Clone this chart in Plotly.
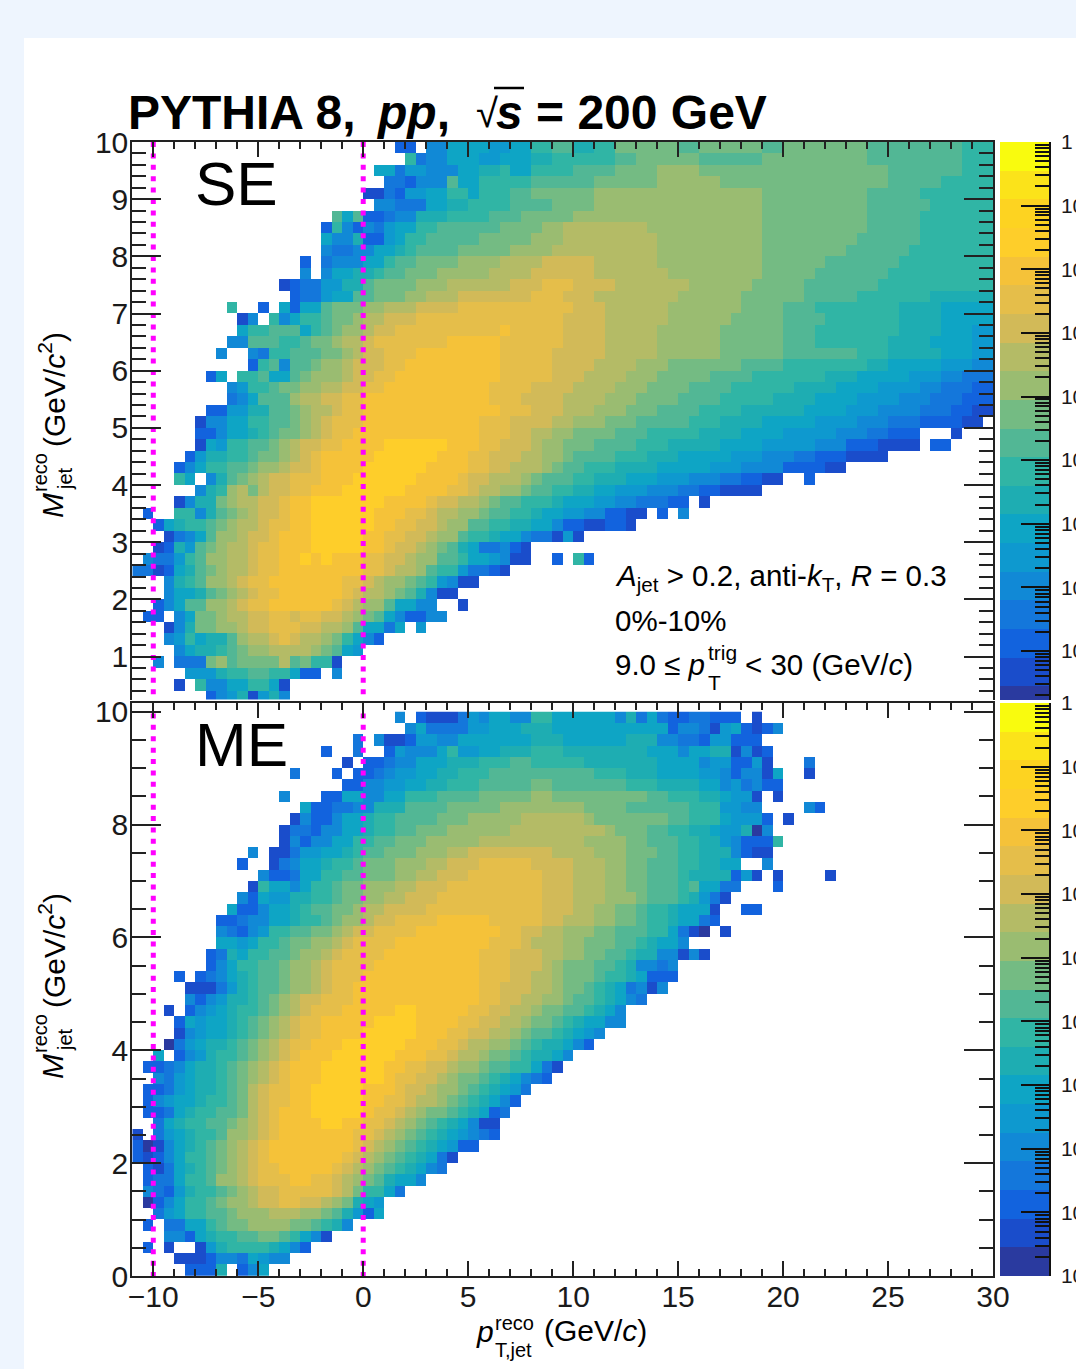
import re
import numpy as np
import plotly.graph_objects as go

W, H = 1076, 1369
FONT = "Liberation Sans"

# Band colours of the shared palette, from the lowest band (a) to the highest (t)
BAND_COLORS = ["#2A3A9F", "#1A4DCB", "#1263DE", "#1477DB", "#1189D6", "#0E99CF", "#0EA5C5",
               "#1EADB2", "#30B5A5", "#52B795", "#74BB83", "#9ABC71", "#B4BB66", "#D2BA58",
               "#E5BE4A", "#F5C239", "#FECE2A", "#FDD321", "#FBE31A", "#F9FB0E"]
BAND_LETTERS = "abcdefghijklmnopqrst"
LOG_MIN, LOG_MAX = -9.0, 0.0
CBAR_TICK_TEXT = ["1", "10<sup>\u22121</sup>", "10<sup>\u22122</sup>", "10<sup>\u22123</sup>", "10<sup>\u22124</sup>",
                  "10<sup>\u22125</sup>", "10<sup>\u22126</sup>", "10<sup>\u22127</sup>", "10<sup>\u22128</sup>", "10<sup>\u22129</sup>"]
CBAR_TICK_POW = [0, -1, -2, -3, -4, -5, -6, -7, -8, -9]

# Each row: "<band letter><first column>"; '.' is an empty stretch. Column 0 starts at pT=-11, 0.5 GeV wide.
SE_ROWS = [
 "c25 .27 e28 .30 g30 f34 g36 i38 j40 h42 i44 k46 j52 k54 j60 k62 j70 i79",
 "i26 d27 e28 g30 f33 g35 h38 i40 j46 k48 j54 k60 j70 i79",
 "g23 .25 d25 f26 e28 g31 h33 i35 g36 i38 j42 k46 l50 k54 j72 i79",
 "d24 c26 e27 j30 g31 i33 j38 k44 l50 k56 j72 i77",
 "b22 d24 c25 f26 g28 i30 g32 i33 j36 k38 l44 k60 j70 i75",
 "e23 d25 g28 h30 i32 j36 k40 l44 k60 j70 i76",
 "j19 .20 g20 j21 c22 d24 e25 h27 i30 j34 k37 l42 k60 j70 i75",
 "c18 i19 e20 c21 e22 d23 f24 g25 i27 j29 k35 l39 m41 l49 k60 j70 i75",
 "g18 e19 h21 c22 f24 g25 i26 j28 k33 l38 m41 l50 k60 j69 i75",
 "e18 d19 e21 g23 h25 i26 j27 k31 l36 m40 l50 k60 j68 i74",
 "c16 .17 d18 e19 g22 i24 j25 k27 l31 m35 n39 m44 l50 k60 j66 i73",
 "e16 .17 e18 g19 h21 i23 j24 k26 l29 m34 n38 m44 l51 k60 j65 i72",
 "b14 c15 d16 f18 h20 j22 k23 l27 m30 n36 o39 n42 m46 l53 k59 j64 i71",
 "c15 d16 f18 g19 j21 k23 l26 m28 n31 o38 n41 m44 l52 k58 j64 i69 h76",
 "i9 .10 c12 .13 g14 c15 g16 j18 k19 l22 m24 n27 o31 n42 m45 l51 k58 j62 i65 h73 g77",
 "b10 e11 .12 i13 e14 g15 i16 j18 k19 l21 m22 n24 o27 n41 m45 l51 k57 j62 i66 h73 g77",
 "g10 i11 j13 g16 i17 j18 k19 l20 m22 n23 o25 p35 o36 n41 m45 l50 k56 j62 i65 h73 g77 f80",
 "e9 j11 i14 j16 k17 l19 m20 n22 o23 p30 o35 n41 m45 l50 k56 j62 i65 h72 g76 f80",
 "e8 .9 e11 d12 i13 j15 k18 l20 m21 n22 o24 p27 o35 n40 m45 l50 k56 j62 i69 h72 g77 f80",
 "c11 i12 j13 e14 j15 k17 l18 m20 n21 o24 p26 o35 n40 m44 l48 k51 j58 i62 h70 g72 f77 e80",
 "c7 g8 .9 i10 j12 g13 j15 k16 l17 m20 n21 o23 p25 o35 n40 m43 l47 k50 j55 i59 h66 g69 f74 e77 d79",
 "e9 f10 i11 j13 k14 l16 m18 n20 o22 p24 o34 n38 m42 l46 k49 j53 i57 h63 g67 f71 e75 d77 c80",
 "d9 e10 g11 j12 l15 m16 n18 o20 p22 o34 n37 m41 l45 k48 j52 i56 h61 g65 f69 e73 d76 c79",
 "c7 f9 h11 j13 k15 l16 m17 n19 o20 p22 o35 n38 m41 l44 k47 j50 i54 h58 g64 f68 e71 d75 c78 b80",
 "b6 e7 g9 i11 j13 k15 l16 m17 n18 o19 p22 o33 n36 m40 l42 k45 j48 i53 h56 g60 f65 e69 d72 c75 b79 .81",
 "c6 e8 g9 h11 i12 j13 k14 l16 m17 n18 o19 p21 o33 n36 m38 l40 k42 j46 i49 h54 g58 f62 e67 d70 c72 .75 b78 .79",
 "b6 g7 f8 i9 j11 k13 l14 m15 n16 o18 p20 q24 p30 o33 n35 m38 l39 k41 j44 i48 h51 g56 f60 e65 c68 b71 .75 c76 .78",
 "c5 f6 h7 i9 j11 k12 l14 m15 n16 o17 p18 q23 p29 o32 n34 m37 l39 k41 j42 i46 h49 g52 f57 e60 d63 c65 b68 .72",
 "c4 e5 g6 i7 j9 k11 l12 m14 n15 o17 p18 q22 p28 o32 n34 m36 l39 k40 j41 i43 h46 g50 f55 e58 c62 b66 .68",
 "i4 g5 .6 e7 h8 j9 k10 l11 m12 n13 o15 p18 q21 p27 o31 n32 m34 l37 k38 j39 i42 h44 g47 f50 e53 d56 c58 b60 .62 c64 .65",
 "e6 h7 i8 l9 m10 k11 m12 n13 o15 p17 q20 p26 o30 n32 m33 l35 k37 j38 i40 h42 g44 f46 e49 d52 c54 b56 .60",
 "b4 e5 h6 k8 l9 m10 n12 o14 p15 q17 p24 o28 n29 m31 l33 k34 j35 i37 h40 g41 f44 e46 d48 c51 .53 b54 .55",
 "c1 .2 i4 e6 h7 j8 k9 l10 m11 n12 o14 p15 q17 p23 o26 n28 m29 l31 k33 j34 i36 h38 g39 f41 e43 c45 b47 .49 c50 .51 e52 .53",
 "c2 g3 h4 i5 j7 k8 l9 m10 n12 o13 p15 q17 p23 o25 n27 m29 l30 j32 i34 h36 g38 e40 c41 b43 c45 b47 .48",
 "b3 d4 e5 g6 j7 l8 m10 n11 o13 p14 q17 p22 o24 n26 m28 l29 j31 i32 h34 g35 e37 d38 b40 f41 b42 .43",
 "b2 c3 h4 f5 j6 k7 l8 m9 n11 o12 p14 q17 p22 o24 n25 m27 l28 k29 j30 h31 g32 d33 e35 c36 b37 .38",
 "e1 d2 f4 i5 j6 l7 m9 n11 o12 p14 q16 p17 q18 p19 o22 n24 m26 l27 j29 i31 g32 f34 e35 b36 .38 c40 .41 i42 c43 .44",
 "d0 .2 b2 c3 g4 h5 j6 k7 l8 m9 n11 o12 p14 o22 n24 m25 l27 j28 i29 f31 d32 c34 b35 .36",
 "e3 h4 i5 j6 l7 m9 n10 o11 p13 o20 n22 m23 l24 k26 j27 i28 f29 e30 b31 .33",
 "e3 g4 h6 j7 k8 l9 m10 n11 o12 p14 o20 n21 m22 l24 k25 j26 h27 g28 e28 b29 .31",
 "c2 e3 g4 j5 l7 m9 n10 o11 p13 o19 n20 m21 l22 j24 g25 e27 .29 b31 .32",
 "c1 .3 e4 g5 k6 l8 m9 n11 o13 n15 o16 n18 m20 l21 k22 j23 g24 e25 c26 .28 e28 .30",
 "b3 e4 h5 k6 l8 m10 n11 o13 n16 m18 l20 j21 g22 d24 g25 .26 f27 .28",
 "e3 f4 i5 g6 h7 j9 l10 m11 n13 o14 n15 m16 l18 k19 i20 g21 e22 c23 .24",
 "e4 g5 h6 i8 j9 k10 l11 m13 l17 k18 j19 g20 f21 .22",
 "e2 .3 d4 k7 l8 j9 k10 m14 j15 k16 i17 b19 .20",
 "f5 h8 i9 j11 i13 g15 c16 .18 e19 .20",
 "b4 .5 i6 e7 g9 i11 g13 b14 .15",
 "c7 e8 f9 h10 b11 f12 h13 e14 .15",
]

ME_ROWS = [
 "e25 .26 c27 b28 d31 f32 e33 g34 e36 i38 g40 e46 h47 d48 g49 d50 c51 d53 c55 .58 b59 .60",
 "e26 g27 d28 f32 g34 h37 g40 c51 e52 d54 b55 f56 g57 c58 b59 .60 c60 e61 .62",
 "d21 .22 e23 b24 c26 f27 e29 g31 h38 g41 h47 e50 d52 c54 f55 c57 .59 c59 .60",
 "c18 .19 d21 .22 c24 f25 e26 g29 i30 f31 g33 h35 i38 h41 g49 e52 g53 h55 b57 e58 b59 c60 .61",
 "b20 .21 c22 d24 e25 g27 h30 i33 j36 i38 h43 g50 e54 f55 c57 f59 b60 .61 d64 .65",
 "d15 .16 c19 .20 c21 d23 e24 f25 g27 h29 i31 j34 i44 h47 g50 f54 e56 c57 e58 b60 g61 .62 b64 .65",
 "c20 e22 f24 g26 h28 i30 j33 k38 j40 i47 h50 g54 e56 f57 d58 e59 c60 .62",
 "e14 .15 c18 g20 e22 g24 i26 j29 k33 l38 k40 j49 i51 h54 g56 f57 b59 .60 b61 .62",
 "g16 c17 d19 e21 h23 j26 k30 l35 k43 j47 i53 f56 e58 .60 e64 c65 .66",
 "b15 e16 c17 e19 g20 h22 i23 j25 k29 l32 m37 l43 k44 j51 i53 g56 f57 c60 .61 b62 .63",
 "b14 d15 c17 e18 g20 h22 i23 j25 k27 l30 m36 l45 k46 j49 i51 h53 g55 f56 h58 a59 e60 .61",
 "b14 e15 c16 e17 g19 i21 j23 k25 l28 m33 l43 k47 j49 i52 h54 f56 e57 c58 i61 .62",
 "e11 .12 b13 d15 f16 g18 h20 i21 j22 k24 l27 m30 n32 m40 l44 k47 j50 i52 h54 e57 c58 b59 .61",
 "c10 .11 b13 d14 e15 g16 h18 i19 j21 k22 l25 m28 n30 o33 n38 m42 l45 k47 j49 i52 h54 g56 .58 e60 .61",
 "e12 c13 d15 g16 i18 j20 k22 l25 m27 n29 o32 n39 m42 l45 k47 j49 i52 h53 c57 f58 b59 .60 b61 .62 b66 .67",
 "b11 i12 g13 e15 g16 i17 j19 k20 l22 m25 n27 o30 n39 m42 l45 k47 j49 i52 j53 g54 d56 .58 c61 .62",
 "e10 c11 g12 f13 h15 i17 j19 k20 l22 m24 n26 o29 n39 m42 l45 k48 j49 i52 h53 f54 d55 b56 .57",
 "g9 c10 e12 g13 h15 i16 j17 k19 l21 m22 n24 o28 n39 m42 l44 k46 j48 i49 h51 g52 c55 b55 .56 c58 .60",
 "c8 d10 e11 g13 h15 i16 j18 k19 l20 m22 n23 o25 p29 o34 n39 m41 l44 k46 j48 i49 h51 g52 d54 c55 .56",
 "e8 d9 c10 e11 f12 i13 j15 k17 l19 m20 n21 o23 p27 o35 n37 m39 l41 k44 j46 i49 g51 d52 b53 a54 .55 b56 .57",
 "g8 f10 g11 i12 j14 k15 l17 m19 n20 o21 p25 o34 n37 m38 l41 k43 j46 i48 h49 g50 e52 .53",
 "c7 d8 h9 g10 i11 j13 k15 l16 m18 n19 o20 p24 o33 n36 m39 l41 k43 j45 i47 h48 e50 b52 e53 b54 .55",
 "c7 e8 g9 i10 j12 k14 l15 m17 n18 o19 p23 o33 n36 m39 l40 k41 j44 i46 h47 e48 d50 e51 .52",
 "c4 .5 c6 d7 e8 g9 h10 i11 j12 k14 l15 m17 n18 o19 p22 o33 n36 m38 l40 k41 j44 i45 h47 g48 c49 .52",
 "b5 d8 f9 h10 i11 j12 k14 l15 m17 n18 o19 p21 o33 n35 m38 l40 k41 j43 i44 h45 g46 d47 e48 b49 e50 .51",
 "e5 c6 e7 f8 h9 i11 j12 k13 l14 m15 n16 o18 p21 o33 n35 m37 l39 k41 j42 i44 h45 g46 e47 d48 .49",
 "b3 .4 c5 e6 f7 g8 h9 i10 j12 k13 l14 m15 n16 o17 p20 q25 p27 o32 n34 m36 l38 k39 j41 i43 h44 g45 e46 .47",
 "c4 g5 f6 g7 h9 i10 j11 k12 l13 m14 n15 o16 p18 q23 p27 o31 n33 m35 l37 k38 j40 i41 h42 g43 e45 .47",
 "b4 e5 f6 g7 h9 i10 j11 k12 l13 m14 n15 o16 p18 q22 p27 o30 n32 m34 l36 k37 j38 i40 h41 g42 f43 e44 .45",
 "a3 d4 f5 g6 h7 i9 j10 k11 l12 m13 n14 o15 p17 q20 p26 o29 n31 m32 l34 k36 j37 i38 h39 g41 e42 c43 .44",
 "g2 .3 c4 e5 f6 h7 i8 j10 k11 l12 m13 n14 o15 p16 q19 p25 o28 n30 m31 l33 k34 j36 i37 h38 g40 e41 .42",
 "c1 d3 e4 g5 h6 i8 j9 k10 l11 m12 n13 o14 p15 q18 p24 o26 n28 m30 l31 k33 j34 i36 g38 d39 b40 .41",
 "e2 d3 f4 g5 h6 i8 j9 k10 l11 m12 n13 o14 p15 q18 p24 o25 n27 m29 l30 k31 j33 i34 h35 g36 e37 d38 c39 .40",
 "c1 d3 f4 g5 h6 i8 j9 k10 m11 n12 o13 p15 q17 p22 o25 n26 m28 l29 k31 j32 i33 h34 g35 f36 d37 .38",
 "c1 e2 f3 g4 h6 i7 j9 k10 m11 n12 o13 p15 q17 p22 o24 n26 m27 l29 k30 j31 i32 h33 g34 e35 c36 .37",
 "c1 d3 g4 h5 i6 j8 k10 m11 n12 o13 p14 q17 p22 o23 n25 m26 l27 k28 j30 i31 h32 g33 c34 d35 .36",
 "d2 g3 h4 i5 j7 k9 l10 m11 n12 o13 p14 q18 p20 o22 n24 m25 l26 k27 j28 i29 h30 g31 e32 b33 .35",
 "b0 .1 d2 f3 g4 h5 i6 j8 l9 m11 n12 o13 p14 o21 n23 m24 l25 k26 j27 i28 h29 g30 f31 e32 d33 c34 .35",
 "c0 a1 b2 e3 g4 h5 i6 j7 k8 l9 m10 n11 o12 p13 o21 n22 m23 l24 k25 j26 i27 h28 g29 f30 c31 .33",
 "c0 b1 c2 e3 g4 i5 j7 k8 l9 m10 n11 o12 p13 o20 n21 m22 l23 k24 j25 i26 h27 g28 d29 b30 .31",
 "c1 b2 d3 g4 h5 i6 j7 k8 l9 m10 n11 o12 p14 o19 n20 m21 l22 k23 j24 i25 h26 g27 e28 d29 .30",
 "c1 d2 g4 i5 j7 l8 m10 n11 o12 p15 o17 n19 m20 l21 k22 j23 h24 g25 e27 .28",
 "e1 d2 c3 f4 h5 i6 j8 k9 l10 m11 n12 o14 n19 m20 l21 k21 i22 g24 d25 .26",
 "a1 c2 e3 g4 i5 j7 k8 l9 m11 n12 o14 n16 m18 l19 k20 h21 g22 f23 .24",
 "d2 f3 g4 i5 j7 k9 l10 m13 l16 k18 j19 h20 f21 c22 g23 .24",
 "c1 .2 d3 g5 i7 j8 k9 l11 k15 j17 i18 h19 e20 .21",
 "e3 c5 g6 h7 i8 j10 k12 j14 i15 g16 e17 b18 .19",
 "c1 .2 b3 .4 b6 f7 h8 i9 h13 g14 e15 c16 .17",
 "b4 .5 b5 c7 e8 d10 g11 f12 e13 .14 e14 .15",
 "c5 .8 h8 .9 c10 e11 g12 .13",
]

N_COLS = 82
X_START, BIN_X = -11.0, 0.5
Y_TOP, BIN_Y = 10.0, 0.2
REF_X = [-10, 0]


def band_value(i):
    return LOG_MIN + (LOG_MAX - LOG_MIN) * (i + 0.5) / len(BAND_COLORS)


def decode(rows):
    out = []
    for row in rows:
        cells = [None] * N_COLS
        toks = re.findall(r"([a-t.])(\d+)", row)
        for j, (ch, start) in enumerate(toks):
            end = int(toks[j + 1][1]) if j + 1 < len(toks) else N_COLS
            if ch != ".":
                for c in range(int(start), end):
                    cells[c] = band_value(BAND_LETTERS.index(ch))
        out.append(cells)
    return out


x_edges = X_START + BIN_X * np.arange(N_COLS + 1)
nb = len(BAND_COLORS)
colorscale = []
for i, c in enumerate(BAND_COLORS):
    colorscale += [[i / nb, c], [(i + 1) / nb, c]]

# Pixel layout
PL, PR = 132.3, 993.0
P1T, P1B = 142.0, 699.5
P2T, P2B = 703.0, 1276.0
CL, CR = 1000.0, 1049.0
CB1T, CB1B = 142.0, 700.0
CB2T, CB2B = 703.0, 1276.0


def fx(p):
    return p / W


def fy(p):
    return 1 - p / H


fig = go.Figure()
hm = dict(coloraxis="coloraxis", hoverinfo="skip")
se_y = Y_TOP - BIN_Y * np.arange(len(SE_ROWS) + 1)
me_y = Y_TOP - BIN_Y * np.arange(len(ME_ROWS) + 1)
fig.add_trace(go.Heatmap(x=x_edges, y=se_y, z=decode(SE_ROWS), xaxis="x", yaxis="y", **hm))
fig.add_trace(go.Heatmap(x=x_edges, y=me_y, z=decode(ME_ROWS), xaxis="x2", yaxis="y2", **hm))

band_edges = np.linspace(LOG_MIN, LOG_MAX, nb + 1)
band_vals = [[band_value(i)] for i in range(nb)]
fig.add_trace(go.Heatmap(x=[0, 1], y=band_edges, z=band_vals, xaxis="x3", yaxis="y3", **hm))
fig.add_trace(go.Heatmap(x=[0, 1], y=band_edges, z=band_vals, xaxis="x4", yaxis="y4", **hm))

SE_YMIN, ME_YMIN, ME_YMAX = 0.25, 0.0, 10.155
for xv in REF_X:
    line = dict(color="#FF00FF", width=5, dash="5px,6.4px")
    fig.add_trace(go.Scatter(x=[xv, xv], y=[Y_TOP, SE_YMIN], mode="lines", line=line, xaxis="x", yaxis="y",
                             showlegend=False, hoverinfo="skip"))
    fig.add_trace(go.Scatter(x=[xv, xv], y=[Y_TOP - 0.03, ME_YMIN], mode="lines", line=line, xaxis="x2", yaxis="y2",
                             showlegend=False, hoverinfo="skip"))

tick = dict(color="#1a1a1a", size=30, family=FONT)
base_x = dict(range=[X_START, 30], domain=[fx(PL), fx(PR)], tick0=-10, dtick=5, ticks="inside", ticklen=15, tickwidth=1.5,
              tickcolor="#222", showline=True, linecolor="#222", linewidth=2, showgrid=False, zeroline=False, automargin=False,
              minor=dict(dtick=1, tick0=-10, ticks="inside", ticklen=7, tickwidth=1.5, tickcolor="#222", showgrid=False),
              tickfont=tick)
base_y = dict(ticks="inside", ticklen=29, tickwidth=1.5, tickcolor="#222", showline=True, linecolor="#222", linewidth=2,
              showgrid=False, zeroline=False, mirror="ticks", tickfont=tick, ticklabelstandoff=-4, automargin=False)

minor_log = sorted(float(p + np.log10(m)) for p in range(-9, 0) for m in range(2, 10))


def cbar_y(dom, rng):
    return dict(domain=dom, range=rng, side="right", anchor=None, tickmode="array", tickvals=CBAR_TICK_POW, ticktext=CBAR_TICK_TEXT,
                ticks="inside", ticklen=28, tickwidth=1.5, tickcolor="#111", showline=True, linecolor="#111", linewidth=1.5,
                showgrid=False, zeroline=False, automargin=False, tickfont=dict(color="#1a1a1a", size=21, family=FONT), ticklabelstandoff=6,
                minor=dict(tickmode="array", tickvals=minor_log, ticks="inside", ticklen=14, tickwidth=1.5, tickcolor="#111", showgrid=False))


def cbar_x(anchor):
    return dict(domain=[fx(CL), fx(CR)], range=[0, 1], showticklabels=False, ticks="", showgrid=False, zeroline=False, showline=False, anchor=anchor, automargin=False)


y3 = cbar_y([fy(CB1B), fy(CB1T)], [-8.77, 0]); y3["anchor"] = "x3"
y4 = cbar_y([fy(CB2B), fy(CB2T)], [LOG_MIN, LOG_MAX]); y4["anchor"] = "x4"

fig.update_layout(
    width=W, height=H, autosize=False, margin=dict(l=0, r=0, t=0, b=0, pad=0),
    paper_bgcolor="#EEF5FE", plot_bgcolor="#FFFFFF", showlegend=False,
    font=dict(family=FONT, color="#111"),
    coloraxis=dict(colorscale=colorscale, cmin=LOG_MIN, cmax=LOG_MAX, showscale=False),
    xaxis=dict(base_x, anchor="y", side="top", showticklabels=False),
    yaxis=dict(base_y, anchor="x", domain=[fy(P1B), fy(P1T)], range=[SE_YMIN, Y_TOP], tick0=0, dtick=1,
               minor=dict(dtick=0.2, tick0=0, ticks="inside", ticklen=14, tickwidth=1.5, tickcolor="#222", showgrid=False)),
    xaxis2=dict(base_x, anchor="y2", side="bottom", mirror="ticks", tickangle=0, ticklabelstandoff=-7),
    yaxis2=dict(base_y, anchor="x2", domain=[fy(P2B), fy(P2T)], range=[ME_YMIN, ME_YMAX], tick0=0, dtick=2,
                minor=dict(dtick=0.5, tick0=0, ticks="inside", ticklen=14, tickwidth=1.5, tickcolor="#222", showgrid=False)),
    xaxis3=cbar_x("y3"), yaxis3=y3, xaxis4=cbar_x("y4"), yaxis4=y4,
)

# White pad behind everything, overline of the square root
fig.add_shape(type="rect", xref="paper", yref="paper", x0=fx(24), x1=1, y0=0, y1=fy(38), fillcolor="#FFFFFF", line_width=0, layer="below")
fig.add_shape(type="line", xref="paper", yref="paper", x0=fx(494), x1=fx(524), y0=fy(88), y1=fy(88), line=dict(color="#000", width=2.5))


def note(text, x, y, size, anchor="left", angle=0, color="#000"):
    fig.add_annotation(text=text, xref="paper", yref="paper", x=fx(x), y=fy(y), xanchor=anchor, yanchor="middle",
                       showarrow=False, textangle=angle, font=dict(size=size, family=FONT, color=color), align="left")


# Title
note("<b>PYTHIA 8,</b>", 126, 112, 48)
note("<b><i>pp</i>,</b>", 374, 112, 48)
note("\u221a", 474, 113, 40)
note("<b><i>s</i> = 200 GeV</b>", 494, 112, 48)

# Panel names
note("SE", 193, 184, 62)
note("ME", 193, 744, 62)

# Selection text
note("<i>A</i><sub>jet</sub> > 0.2, anti-<i>k</i><sub>T</sub>, <i>R</i> = 0.3", 613, 578, 29.5)
note("0%-10%", 613, 621, 29.5)
note("9.0 \u2264 <i>p</i>", 613, 665, 29.5)
note("trig", 706, 652, 21)
note("T", 706, 683, 21)
note("< 30 (GeV/<i>c</i>)", 743, 665, 29.5)

# Y titles (rotated, stacked scripts)
for ymid, dy in ((0, 0), (1, 561)):
    note("<i>M</i>", 52, 506 + dy, 30, "center", -90)
    note("reco", 40, 473 + dy, 20, "center", -90)
    note("jet", 65, 479 + dy, 20, "center", -90)
    note("(GeV/<i>c</i><sup>2</sup>)", 52, 390 + dy, 30, "center", -90)

# X title
note("<i>p</i>", 474, 1331, 30)
note("reco", 493, 1323, 20)
note("T,jet", 493, 1350, 20)
note("(GeV/<i>c</i>)", 542, 1330, 30)

fig.write_html("out.html", config={"displayModeBar": False},
               post_script="document.body.style.margin='0';document.documentElement.style.overflow='hidden';document.body.style.overflow='hidden';")
